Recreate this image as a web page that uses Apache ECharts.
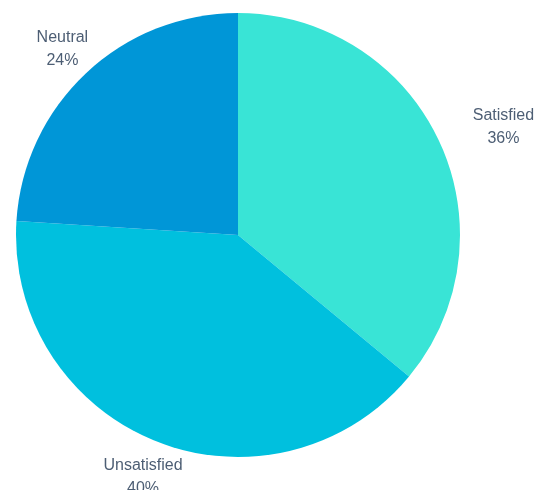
<!DOCTYPE html>
<html>
<head>
<meta charset="utf-8">
<script src="https://cdn.jsdelivr.net/npm/echarts@6/dist/echarts.min.js"></script>
<style>
  html, body { margin: 0; padding: 0; background: #fff; }
  #chart { width: 549px; height: 490px; }
</style>
</head>
<body>
<div id="chart"></div>
<script>
// Satisfaction survey split
const categories = ['Satisfied', 'Unsatisfied', 'Neutral'];
const shares = [36, 40, 24];
const sliceColors = ['#39e4d6', '#00c0de', '#0096d7'];

// small nudges applied to the outside labels, keyed by slice name
const labelNudge = { Satisfied: [0, 2], Unsatisfied: [5, 2], Neutral: [6, 2] };

const chart = echarts.init(document.getElementById('chart'), null, { renderer: 'canvas' });

const data = categories.map((name, i) => {
  const item = { name, value: shares[i], itemStyle: { color: sliceColors[i] } };
  // the right-hand label sits a little further out horizontally
  if (name === 'Satisfied') item.labelLine = { length: 36, length2: 27 };
  return item;
});

chart.setOption({
  animation: false,
  series: [{
    type: 'pie',
    center: [238, 235],
    radius: 222,
    startAngle: 90,
    clockwise: true,
    avoidLabelOverlap: false,
    data,
    label: {
      show: true,
      position: 'outside',
      formatter: p => '{t|' + p.name + '}\n{t|' + Math.round(p.percent) + '%}',
      rich: {
        t: {
          fontFamily: 'Liberation Sans, Arial, sans-serif',
          fontSize: 16,
          lineHeight: 23,
          color: '#4d5e74',
          align: 'center'
        }
      }
    },
    labelLine: { show: false, length: 36, length2: 0 },
    labelLayout: params => {
      const n = labelNudge[categories[params.dataIndex]] || [0, 0];
      return { align: 'center', verticalAlign: 'middle', dx: n[0], dy: n[1] };
    },
    emphasis: { disabled: true }
  }]
});
</script>
</body>
</html>
